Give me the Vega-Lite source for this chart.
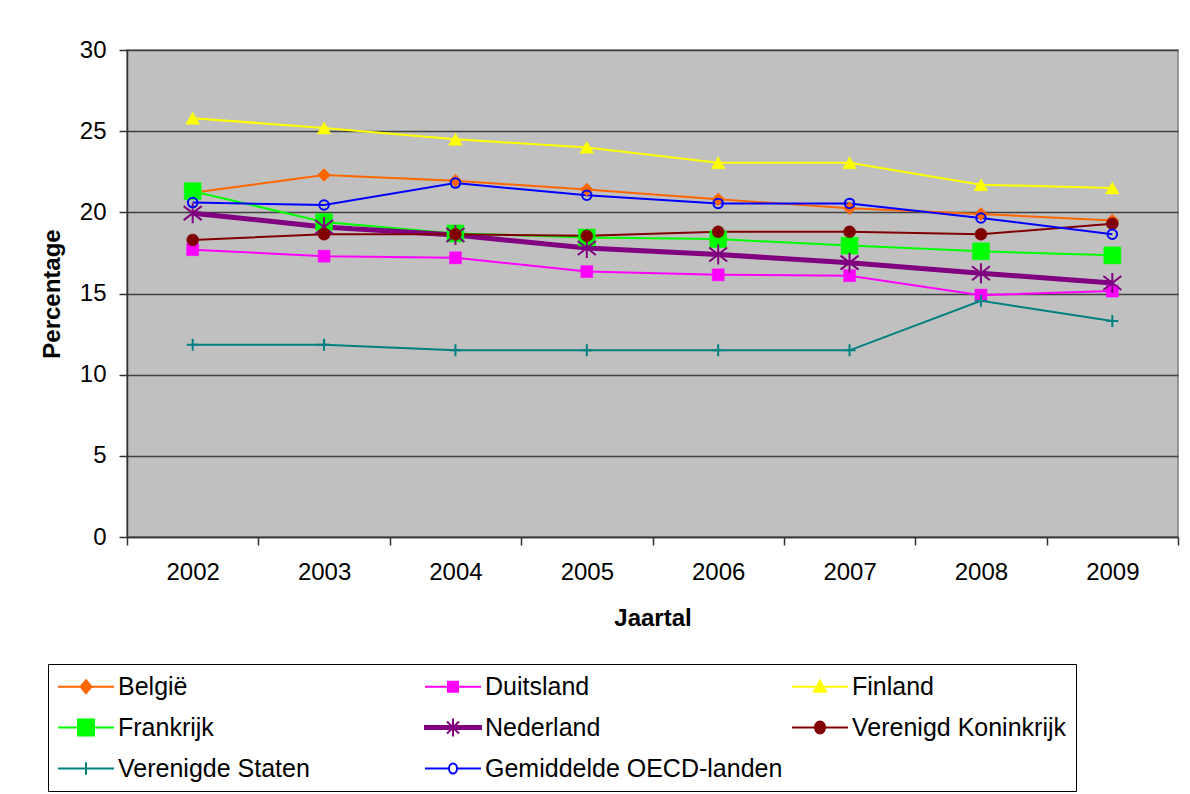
{
  "$schema": "https://vega.github.io/schema/vega-lite/v6.json",
  "width": 1051,
  "height": 487,
  "autosize": {"type": "none"},
  "padding": {"left": 127, "top": 50, "right": 12, "bottom": 257},
  "background": "white",
  "config": {
    "font": "Liberation Sans",
    "view": {"fill": "#C0C0C0", "stroke": "#808080", "strokeWidth": 1.5},
    "axis": {
      "labelFont": "Liberation Sans",
      "titleFont": "Liberation Sans",
      "labelColor": "black",
      "titleColor": "black",
      "labelFontSize": 24,
      "titleFontSize": 24,
      "titleFontWeight": "bold",
      "domainColor": "#333333",
      "tickColor": "#333333",
      "domainWidth": 1.5,
      "tickWidth": 1.5,
      "tickSize": 8
    }
  },
  "data": {
    "values": [
      {"year": "2002", "series": "België", "value": 21.2},
      {"year": "2003", "series": "België", "value": 22.3},
      {"year": "2004", "series": "België", "value": 21.95},
      {"year": "2005", "series": "België", "value": 21.4},
      {"year": "2006", "series": "België", "value": 20.8},
      {"year": "2007", "series": "België", "value": 20.25},
      {"year": "2008", "series": "België", "value": 19.9},
      {"year": "2009", "series": "België", "value": 19.5},
      {"year": "2002", "series": "Duitsland", "value": 17.7},
      {"year": "2003", "series": "Duitsland", "value": 17.3},
      {"year": "2004", "series": "Duitsland", "value": 17.2},
      {"year": "2005", "series": "Duitsland", "value": 16.35},
      {"year": "2006", "series": "Duitsland", "value": 16.15},
      {"year": "2007", "series": "Duitsland", "value": 16.1},
      {"year": "2008", "series": "Duitsland", "value": 14.9},
      {"year": "2009", "series": "Duitsland", "value": 15.15},
      {"year": "2002", "series": "Finland", "value": 25.8},
      {"year": "2003", "series": "Finland", "value": 25.2},
      {"year": "2004", "series": "Finland", "value": 24.5},
      {"year": "2005", "series": "Finland", "value": 24.0},
      {"year": "2006", "series": "Finland", "value": 23.05},
      {"year": "2007", "series": "Finland", "value": 23.05},
      {"year": "2008", "series": "Finland", "value": 21.7},
      {"year": "2009", "series": "Finland", "value": 21.5},
      {"year": "2002", "series": "Frankrijk", "value": 21.3},
      {"year": "2003", "series": "Frankrijk", "value": 19.4},
      {"year": "2004", "series": "Frankrijk", "value": 18.7},
      {"year": "2005", "series": "Frankrijk", "value": 18.45},
      {"year": "2006", "series": "Frankrijk", "value": 18.35},
      {"year": "2007", "series": "Frankrijk", "value": 17.95},
      {"year": "2008", "series": "Frankrijk", "value": 17.6},
      {"year": "2009", "series": "Frankrijk", "value": 17.35},
      {"year": "2002", "series": "Nederland", "value": 19.95},
      {"year": "2003", "series": "Nederland", "value": 19.1},
      {"year": "2004", "series": "Nederland", "value": 18.6},
      {"year": "2005", "series": "Nederland", "value": 17.8},
      {"year": "2006", "series": "Nederland", "value": 17.4},
      {"year": "2007", "series": "Nederland", "value": 16.9},
      {"year": "2008", "series": "Nederland", "value": 16.25},
      {"year": "2009", "series": "Nederland", "value": 15.65},
      {"year": "2002", "series": "Verenigd Koninkrijk", "value": 18.3},
      {"year": "2003", "series": "Verenigd Koninkrijk", "value": 18.65},
      {"year": "2004", "series": "Verenigd Koninkrijk", "value": 18.65},
      {"year": "2005", "series": "Verenigd Koninkrijk", "value": 18.55},
      {"year": "2006", "series": "Verenigd Koninkrijk", "value": 18.8},
      {"year": "2007", "series": "Verenigd Koninkrijk", "value": 18.8},
      {"year": "2008", "series": "Verenigd Koninkrijk", "value": 18.65},
      {"year": "2009", "series": "Verenigd Koninkrijk", "value": 19.3},
      {"year": "2002", "series": "Verenigde Staten", "value": 11.85},
      {"year": "2003", "series": "Verenigde Staten", "value": 11.85},
      {"year": "2004", "series": "Verenigde Staten", "value": 11.5},
      {"year": "2005", "series": "Verenigde Staten", "value": 11.5},
      {"year": "2006", "series": "Verenigde Staten", "value": 11.5},
      {"year": "2007", "series": "Verenigde Staten", "value": 11.5},
      {"year": "2008", "series": "Verenigde Staten", "value": 14.55},
      {"year": "2009", "series": "Verenigde Staten", "value": 13.3},
      {"year": "2002", "series": "Gemiddelde OECD-landen", "value": 20.6},
      {"year": "2003", "series": "Gemiddelde OECD-landen", "value": 20.45},
      {"year": "2004", "series": "Gemiddelde OECD-landen", "value": 21.8},
      {"year": "2005", "series": "Gemiddelde OECD-landen", "value": 21.05},
      {"year": "2006", "series": "Gemiddelde OECD-landen", "value": 20.55},
      {"year": "2007", "series": "Gemiddelde OECD-landen", "value": 20.55},
      {"year": "2008", "series": "Gemiddelde OECD-landen", "value": 19.65},
      {"year": "2009", "series": "Gemiddelde OECD-landen", "value": 18.65}
    ]
  },
  "encoding": {
    "x": {
      "field": "year",
      "type": "ordinal",
      "scale": {"type": "band", "paddingInner": 0, "paddingOuter": 0},
      "axis": {
        "title": "Jaartal",
        "labelAngle": 0,
        "tickBand": "extent",
        "labelPadding": 15,
        "titlePadding": 22,
        "grid": false
      }
    },
    "y": {
      "field": "value",
      "type": "quantitative",
      "scale": {"domain": [0, 30], "nice": false},
      "axis": {
        "title": "Percentage",
        "values": [0, 5, 10, 15, 20, 25, 30],
        "grid": true,
        "gridColor": "#404040",
        "gridWidth": 1.5,
        "labelPadding": 13,
        "titlePadding": 15
      }
    }
  },
  "layer": [
    {
      "mark": {"type": "line"},
      "encoding": {
        "stroke": {
          "field": "series",
          "type": "nominal",
          "scale": {
            "domain": ["België", "Duitsland", "Finland", "Frankrijk", "Nederland", "Verenigd Koninkrijk", "Verenigde Staten", "Gemiddelde OECD-landen"],
            "range": ["#FF6600", "#FF00FF", "#FFFF00", "#00FF00", "#800080", "#800000", "#008080", "#0000FF"]
          },
          "legend": null
        },
        "strokeWidth": {
          "condition": {"test": "datum.series === 'Nederland'", "value": 5},
          "value": 2
        }
      }
    },
    {
      "mark": {"type": "point", "opacity": 1},
      "encoding": {
        "shape": {
          "field": "series",
          "type": "nominal",
          "scale": {
            "domain": ["België", "Duitsland", "Finland", "Frankrijk", "Nederland", "Verenigd Koninkrijk", "Verenigde Staten", "Gemiddelde OECD-landen"],
            "range": ["diamond", "square", "triangle-up", "square", "M0,-1V1M-0.9,-0.7L0.9,0.7M-0.9,0.7L0.9,-0.7", "circle", "M-1,0H1M0,-1V1", "circle"]
          },
          "legend": null
        },
        "stroke": {"field": "series", "type": "nominal", "legend": null},
        "fill": {
          "field": "series",
          "type": "nominal",
          "scale": {
            "domain": ["België", "Duitsland", "Finland", "Frankrijk", "Nederland", "Verenigd Koninkrijk", "Verenigde Staten", "Gemiddelde OECD-landen"],
            "range": ["#FF6600", "#FF00FF", "#FFFF00", "#00FF00", "#800080", "#800000", "#008080", "transparent"]
          },
          "legend": null
        },
        "size": {
          "condition": [
            {"test": "datum.series === 'Frankrijk'", "value": 289},
            {"test": "datum.series === 'Nederland'", "value": 400},
            {"test": "datum.series === 'Gemiddelde OECD-landen'", "value": 90},
            {"test": "datum.series === 'Finland'", "value": 190},
            {"test": "datum.series === 'België'", "value": 169}
          ],
          "value": 144
        },
        "strokeWidth": {
          "condition": [
            {"test": "datum.series === 'Nederland' || datum.series === 'Verenigde Staten' || datum.series === 'Gemiddelde OECD-landen'", "value": 2}
          ],
          "value": 0.5
        }
      }
    },
    {
      "transform": [{"filter": "datum.value < 0"}],
      "mark": {"type": "point", "opacity": 1, "strokeWidth": 2},
      "encoding": {
        "shape": {
          "field": "series",
          "type": "nominal",
          "title": null,
          "scale": {
            "domain": ["België", "Duitsland", "Finland", "Frankrijk", "Nederland", "Verenigd Koninkrijk", "Verenigde Staten", "Gemiddelde OECD-landen"],
            "range": [
              "M-1,0H3.48M1.24,-0.52L1.68,0L1.24,0.52L0.8,0Z",
              "M-1,0H3.48M0.84,-0.4H1.64V0.4H0.84Z",
              "M-1,0H3.48M1.24,-0.5L1.72,0.4L0.76,0.4Z",
              "M-1,0H3.48M0.6,-0.64H1.88V0.64H0.6Z",
              "M-1,-0.12H3.48V0.12H-1ZM1.24,-0.72V0.72M0.76,-0.48L1.72,0.48M0.76,0.48L1.72,-0.48",
              "M-1,0H3.48M1.64,0A0.4,0.48 0 1,1 0.84,0A0.4,0.48 0 1,1 1.64,0Z",
              "M-1,0H3.48M1.24,-0.5V0.5",
              "M-1,0H0.92M1.56,0H3.48M1.56,0A0.32,0.4 0 1,1 0.92,0A0.32,0.4 0 1,1 1.56,0Z"
            ]
          },
          "legend": {
            "orient": "none", "legendX": -79, "legendY": 614, "columns": 3, "direction": "horizontal", "gridAlign": "all",
            "columnPadding": 5, "rowPadding": 14, "symbolSize": 625, "labelFontSize": 25,
            "labelFont": "Liberation Sans", "labelColor": "black", "labelOffset": 34, "labelLimit": 400,
            "padding": 9, "strokeColor": "black", "fillColor": "white", "symbolStrokeWidth": 2, "symbolOpacity": 1
          }
        },
        "stroke": {
          "field": "series", "type": "nominal", "title": null,
          "legend": {
            "orient": "none", "legendX": -79, "legendY": 614, "columns": 3, "direction": "horizontal", "gridAlign": "all",
            "columnPadding": 5, "rowPadding": 14, "symbolSize": 625, "labelFontSize": 25,
            "labelFont": "Liberation Sans", "labelColor": "black", "labelOffset": 34, "labelLimit": 400,
            "padding": 9, "strokeColor": "black", "fillColor": "white", "symbolStrokeWidth": 2, "symbolOpacity": 1
          }
        },
        "fill": {
          "field": "series", "type": "nominal", "title": null,
          "legend": {
            "orient": "none", "legendX": -79, "legendY": 614, "columns": 3, "direction": "horizontal", "gridAlign": "all",
            "columnPadding": 5, "rowPadding": 14, "symbolSize": 625, "labelFontSize": 25,
            "labelFont": "Liberation Sans", "labelColor": "black", "labelOffset": 34, "labelLimit": 400,
            "padding": 9, "strokeColor": "black", "fillColor": "white", "symbolStrokeWidth": 2, "symbolOpacity": 1
          }
        }
      }
    }
  ],
  "resolve": {
    "scale": {"shape": "independent"},
    "legend": {"shape": "independent", "stroke": "independent", "fill": "independent"}
  }
}
